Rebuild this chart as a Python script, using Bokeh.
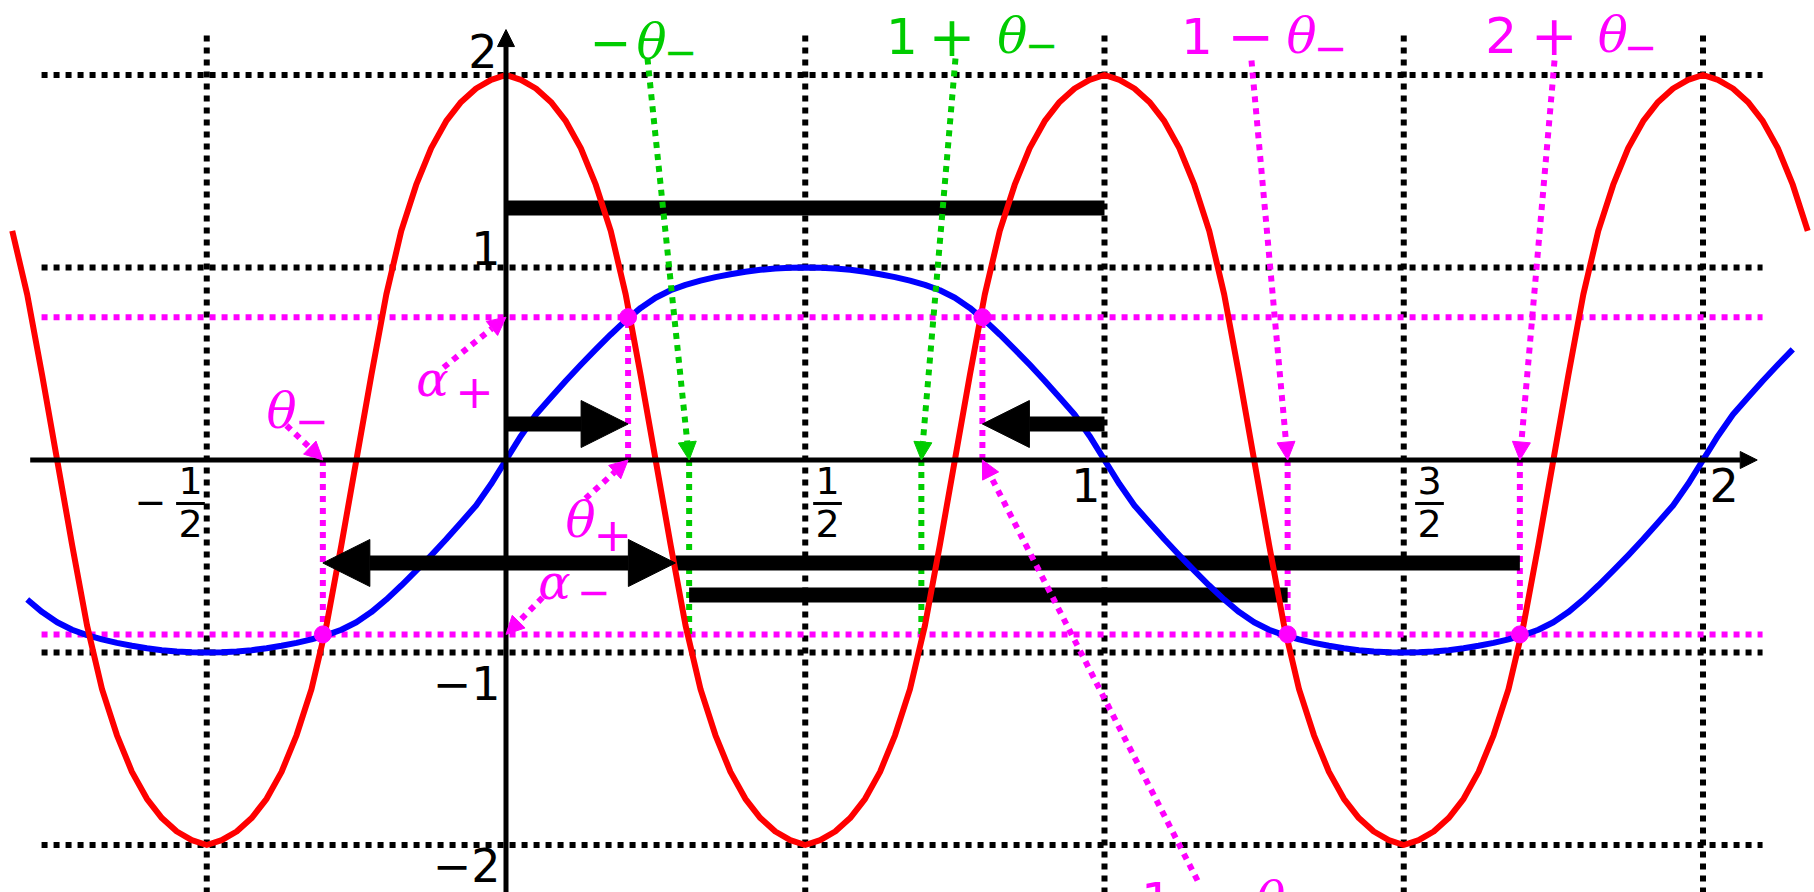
from bokeh.plotting import figure
from bokeh.models import Range1d, Arrow, NormalHead, ColumnDataSource
from bokeh.embed import file_html
from bokeh.resources import INLINE

# ---------------------------------------------------------------- values
theta_plus = 0.204
theta_minus = -0.306
alpha_plus = 0.742
alpha_minus = -0.906

STEP = 0.025
# blue wave: one quarter (x = 0 .. 1/2), read every 0.025
blue_quarter = [0.000, 0.125, 0.236, 0.325, 0.412, 0.495, 0.575, 0.652, 0.725, 0.790,
                0.843, 0.882, 0.910, 0.932, 0.950, 0.965, 0.978, 0.988, 0.995, 0.999,
                1.000]
# red wave: one quarter (x = 0 .. 1/4), read every 0.025
red_quarter = [2.000, 1.975, 1.930, 1.860, 1.760, 1.620, 1.430, 1.190, 0.860, 0.440,
               0.000]
blue_span = (-32, 86)   # sample indices (x = index * STEP)
red_span = (-33, 87)

grid_x = [-0.5, 0.5, 1.0, 1.5, 2.0]
grid_y = [2.0, 1.0, -1.0, -2.0]

# fractional tick labels on the x axis
frac_ticks = [-0.5, 0.5, 1.5]
frac_num = ["1", "1", "3"]
frac_den = ["2", "2", "2"]

# heights of the black bars / arrows
bar_top = 1.309
arrow_level = 0.187
bar_long = -0.535
bar_low = -0.701
mid_head_x = 0.283

MAGENTA = "#FF00FF"
GREEN = "#00CC00"
RED = "#FF0000"
BLUE = "#0000FF"


def blue_at(n):
    m = n % 80
    if m <= 20:
        return blue_quarter[m]
    if m <= 40:
        return blue_quarter[40 - m]
    if m <= 60:
        return -blue_quarter[m - 40]
    return -blue_quarter[80 - m]


def red_at(n):
    m = n % 40
    if m <= 10:
        return red_quarter[m]
    if m <= 20:
        return -red_quarter[20 - m]
    if m <= 30:
        return -red_quarter[m - 20]
    return red_quarter[40 - m]


blue_x = [n * STEP for n in range(blue_span[0], blue_span[1] + 1)]
blue_y = [blue_at(n) for n in range(blue_span[0], blue_span[1] + 1)]
red_x = [n * STEP for n in range(red_span[0], red_span[1] + 1)]
red_y = [red_at(n) for n in range(red_span[0], red_span[1] + 1)]

# ---------------------------------------------------------------- figure
X0, X1 = -0.84461, 2.18630
Y0, Y1 = -2.24675, 2.38701
p = figure(width=1814, height=892, x_range=Range1d(X0, X1), y_range=Range1d(Y0, Y1),
           output_backend="svg", toolbar_location=None, min_border=0,
           x_axis_location=None, y_axis_location=None)
p.grid.visible = False
p.outline_line_color = None
p.background_fill_color = "white"
p.border_fill_color = "white"

DOT = "6 6"
H_LEFT, H_RIGHT = -0.776, 2.0995
V_TOP, V_BOTTOM = 2.205, -2.4

# dotted reference grid
p.segment(x0=grid_x, x1=grid_x, y0=[V_TOP] * len(grid_x), y1=[V_BOTTOM] * len(grid_x),
          line_color="black", line_width=6, line_dash=DOT)
p.segment(x0=[H_LEFT] * len(grid_y), x1=[H_RIGHT] * len(grid_y), y0=grid_y, y1=grid_y,
          line_color="black", line_width=6, line_dash=DOT)

# alpha levels
alphas = [alpha_plus, alpha_minus]
p.segment(x0=[H_LEFT] * 2, x1=[H_RIGHT] * 2, y0=alphas, y1=alphas,
          line_color=MAGENTA, line_width=6, line_dash=DOT)


def head(size, color):
    return NormalHead(size=size, fill_color=color, line_color=color, line_width=1)


# coordinate axes
p.add_layout(Arrow(x_start=-0.795, y_start=0, x_end=2.0906, y_end=0, line_width=5,
                   line_color="black", end=head(17, "black")))
p.add_layout(Arrow(x_start=0, y_start=-2.4, x_end=0, y_end=2.236, line_width=5,
                   line_color="black", end=head(17, "black")))

# vertical drops from the intersection points to the axis
pink_drop_x = [theta_plus, 1 - theta_plus, theta_minus, 1 - theta_minus, 2 + theta_minus]
pink_drop_y = [alpha_plus, alpha_plus, alpha_minus, alpha_minus, alpha_minus]
p.segment(x0=pink_drop_x, x1=pink_drop_x, y0=[0] * 5, y1=pink_drop_y,
          line_color=MAGENTA, line_width=6, line_dash=DOT)
green_drop_x = [-theta_minus, 1 + theta_minus]
p.segment(x0=green_drop_x, x1=green_drop_x, y0=[0] * 2, y1=[alpha_minus] * 2,
          line_color=GREEN, line_width=6, line_dash=DOT)

# dotted pointer arrows (tail -> target)
pointers = [
    (0.2364, 2.0857, -theta_minus, 0, GREEN),
    (0.7510, 2.0857, 1 + theta_minus, 0, GREEN),
    (1.2456, 2.0753, 1 - theta_minus, 0, MAGENTA),
    (1.7519, 2.0753, 2 + theta_minus, 0, MAGENTA),
    (1.1554, -2.1844, 1 - theta_plus, 0, MAGENTA),
    (-0.3668, 0.1792, theta_minus, 0, MAGENTA),
    (-0.1044, 0.4805, 0, alpha_plus, MAGENTA),
    (0.1328, -0.2000, theta_plus, 0, MAGENTA),
    (0.0610, -0.7143, 0, alpha_minus, MAGENTA),
]
for xs, ys, xe, ye, c in pointers:
    p.add_layout(Arrow(x_start=xs, y_start=ys, x_end=xe, y_end=ye, line_color=c,
                       line_width=6, line_dash=DOT, end=head(18, c)))

# thick black bars and arrows
p.segment(x0=[0, mid_head_x, -theta_minus], x1=[1, 2 + theta_minus, 1 - theta_minus],
          y0=[bar_top, bar_long, bar_low], y1=[bar_top, bar_long, bar_low],
          line_color="black", line_width=15)
p.add_layout(Arrow(x_start=0, y_start=arrow_level, x_end=theta_plus, y_end=arrow_level,
                   line_width=15, line_color="black", end=head(47, "black")))
p.add_layout(Arrow(x_start=1, y_start=arrow_level, x_end=1 - theta_plus, y_end=arrow_level,
                   line_width=15, line_color="black", end=head(47, "black")))
p.add_layout(Arrow(x_start=theta_minus, y_start=bar_long, x_end=mid_head_x, y_end=bar_long,
                   line_width=15, line_color="black", start=head(47, "black"),
                   end=head(47, "black")))

# the two curves
p.line(blue_x, blue_y, line_color=BLUE, line_width=6, line_join="round")
p.line(red_x, red_y, line_color=RED, line_width=6, line_join="round")

# intersection points
p.scatter(pink_drop_x, pink_drop_y, size=17, fill_color=MAGENTA, line_color=MAGENTA)

# ---------------------------------------------------------------- texts
SANS, SERIF = "DejaVu Sans", "DejaVu Serif"
RAISE = 0.078
pieces = []


def put(t, x, y, color="black", font=SANS, size="50px", style="normal", align="left"):
    pieces.append((t, x, y + RAISE, color, font, size, style, align))


# y tick labels
put("2", -0.0142, 2.049, size="46px", align="right")
put("1", -0.0092, 1.021, size="46px", align="right")
put("\u22121", -0.0092, -1.234, size="46px", align="right")
put("\u22122", -0.0092, -2.180, size="46px", align="right")
# integer x tick labels
put("1", 0.9933, -0.2104, size="46px", align="right")
put("2", 2.011, -0.2104, size="46px", align="left")

# fractional x tick labels
frac_dx = [-0.0272, 0.0372, 0.0430]
for t, n, d, dx in zip(frac_ticks, frac_num, frac_den, frac_dx):
    put(n, t + dx, -0.1844, size="38px", align="center")
    put(d, t + dx, -0.4078, size="38px", align="center")
put("\u2212", -0.594, -0.2935, size="38px", align="center")
p.segment(x0=[t + dx - 0.024 for t, dx in zip(frac_ticks, frac_dx)],
          x1=[t + dx + 0.024 for t, dx in zip(frac_ticks, frac_dx)],
          y0=[-0.226] * 3, y1=[-0.226] * 3, line_color="black", line_width=3)

# labels of the marked abscissae
put("\u2212", 0.140, 2.091, GREEN)
put("\u03b8", 0.218, 2.091, GREEN, SERIF, style="italic")
put("\u2212", 0.264, 2.049, GREEN, size="40px")

put("1", 0.635, 2.127, GREEN)
put("+", 0.706, 2.127, GREEN, size="56px")
put("\u03b8", 0.821, 2.127, GREEN, SERIF, style="italic")
put("\u2212", 0.867, 2.081, GREEN, size="40px")

put("1", 1.128, 2.122, MAGENTA)
put("\u2212", 1.205, 2.122, MAGENTA, size="56px")
put("\u03b8", 1.304, 2.122, MAGENTA, SERIF, style="italic")
put("\u2212", 1.350, 2.070, MAGENTA, size="40px")

put("2", 1.636, 2.132, MAGENTA)
put("+", 1.712, 2.132, MAGENTA, size="56px")
put("\u03b8", 1.824, 2.132, MAGENTA, SERIF, style="italic")
put("\u2212", 1.868, 2.075, MAGENTA, size="40px")

put("1", 1.061, -2.365, MAGENTA)
put("\u2212", 1.125, -2.365, MAGENTA, size="56px")
put("\u03b8", 1.252, -2.365, MAGENTA, SERIF, style="italic")
put("+", 1.298, -2.428, MAGENTA, size="40px")

put("\u03b8", -0.400, 0.179, MAGENTA, SERIF, style="italic")
put("\u2212", -0.352, 0.132, MAGENTA, size="40px")

put("\u03b1", -0.1500, 0.345, MAGENTA, SERIF, size="48px", style="italic")
put("+", -0.085, 0.283, MAGENTA, size="46px")

put("\u03b8", 0.0994, -0.392, MAGENTA, SERIF, style="italic")
put("+", 0.146, -0.460, MAGENTA, size="46px")

put("\u03b1", 0.0540, -0.714, MAGENTA, SERIF, size="48px", style="italic")
put("\u2212", 0.119, -0.761, MAGENTA, size="40px")

cols = list(zip(*pieces))
text_src = ColumnDataSource(dict(text=list(cols[0]), x=list(cols[1]), y=list(cols[2]),
                                 color=list(cols[3]), font=list(cols[4]), size=list(cols[5]),
                                 style=list(cols[6]), align=list(cols[7])))
p.text(x="x", y="y", text="text", source=text_src, text_color="color", text_font="font",
       text_font_size="size", text_font_style="style", text_align="align",
       text_baseline="alphabetic")

open("out.html", "w").write(file_html(p, INLINE))
